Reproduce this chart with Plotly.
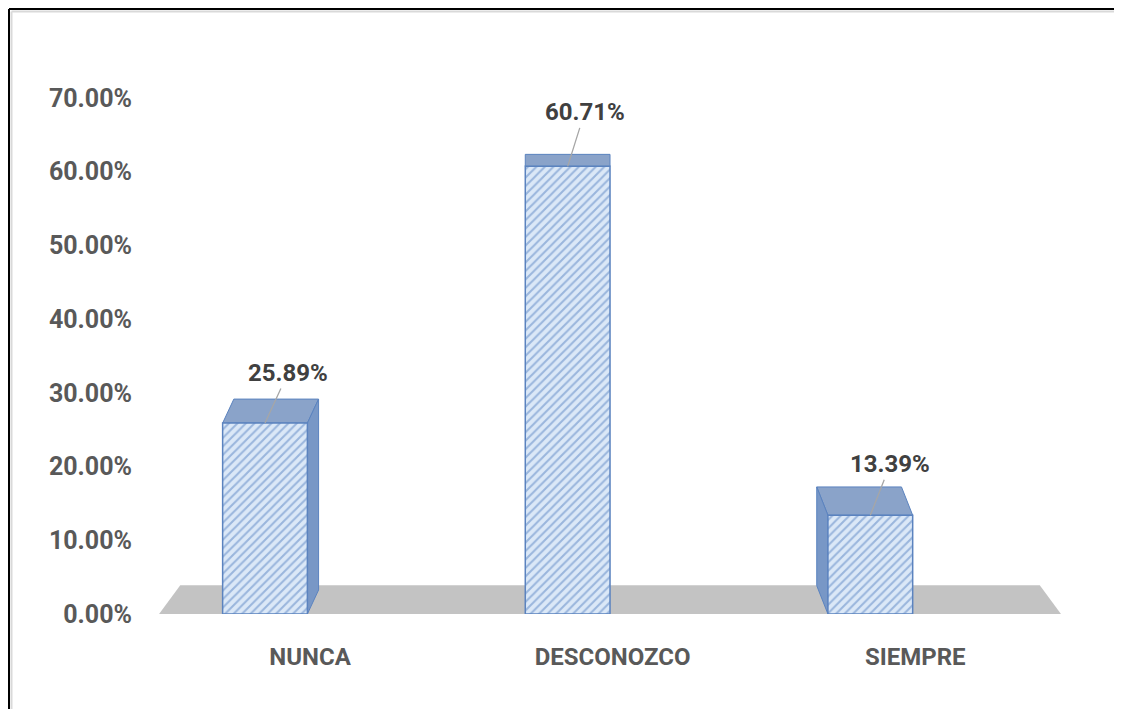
import plotly.graph_objects as go

# data
categories = ["NUNCA", "DESCONOZCO", "SIEMPRE"]
percentages = [25.89, 60.71, 13.39]
tick_values = [0, 10, 20, 30, 40, 50, 60, 70]
tick_labels = ["0.00%", "10.00%", "20.00%", "30.00%", "40.00%", "50.00%", "60.00%", "70.00%"]

# style / layout (page body adds an 8px offset)
W, H = 1122, 709
L, R, T, B = 142, 66, 53, 103
X_RANGE = [-0.38, 2.64]
Y_RANGE = [0, 75]
BAR_W = 0.28
FONT = "Roboto, Lato, sans-serif"
label_offsets = [(23, -50), (17, -54), (20, -51)]  # pixel offsets of value labels

plot_w = W - L - R
plot_h = H - T - B


def px_to_paper(x, y):
    return (x - L) / plot_w, (H - B - y) / plot_h


fig = go.Figure()
fig.add_trace(go.Bar(
    x=categories,
    y=percentages,
    width=BAR_W,
    marker=dict(
        color="#dbe8f7",
        line=dict(color="#5b83bf", width=1.5),
        pattern=dict(shape="/", fgcolor="#5a84c2", bgcolor="#dbe8f7",
                     size=6, solidity=0.35),
    ),
    hoverinfo="skip",
))

shapes = []

# grey floor
shapes.append(dict(
    type="path", xref="x", yref="y", layer="below",
    path="M -0.35 0 L -0.28 3.9 L 2.56 3.9 L 2.63 0 Z",
    fillcolor="#c3c3c3", line=dict(width=0),
))

# 3D depth faces derived from the bar values
half = BAR_W / 2
for i, v in enumerate(percentages):
    dx = (1 - i) * 0.037
    dy = 0.0468 * (95.5 - v)
    x0, x1 = i - half, i + half
    # top face
    shapes.append(dict(
        type="path", xref="x", yref="y", layer="below",
        path=f"M {x0} {v} L {x1} {v} L {x1 + dx} {v + dy} L {x0 + dx} {v + dy} Z",
        fillcolor="#8aa3c9", line=dict(color="#5b83bf", width=1),
    ))
    # side face
    if dx != 0:
        xs = x1 if dx > 0 else x0
        shapes.append(dict(
            type="path", xref="x", yref="y", layer="below",
            path=f"M {xs} 0 L {xs} {v} L {xs + dx} {v + dy} L {xs + dx} {dy} Z",
            fillcolor="#7897c6", line=dict(color="#5b83bf", width=1),
        ))

# outer frame (left and top edges only)
fx, fy = px_to_paper(1, 1)
_, fy_bot = px_to_paper(1, H)
fx_right, _ = px_to_paper(W, 1)
gx, gy = px_to_paper(3.5, 3.5)
shapes.append(dict(type="line", xref="paper", yref="paper", x0=gx, x1=fx_right,
                   y0=gy, y1=gy, line=dict(color="#d9d9d9", width=2)))
shapes.append(dict(type="line", xref="paper", yref="paper", x0=gx, x1=gx,
                   y0=fy_bot, y1=gy, line=dict(color="#d9d9d9", width=2)))
shapes.append(dict(type="line", xref="paper", yref="paper", x0=fx, x1=fx,
                   y0=fy_bot, y1=fy, line=dict(color="black", width=2)))
shapes.append(dict(type="line", xref="paper", yref="paper", x0=fx, x1=fx_right,
                   y0=fy, y1=fy, line=dict(color="black", width=2)))

annotations = []
for i, v in enumerate(percentages):
    ax, ay = label_offsets[i]
    annotations.append(dict(
        x=i, y=v, xref="x", yref="y",
        text=f"<b>{v:.2f}%</b>",
        showarrow=True, arrowhead=0, arrowwidth=1.3, arrowcolor="#a6a6a6",
        ax=ax, ay=ay, standoff=0,
        font=dict(family=FONT, size=24, color="#404040"),
    ))

fig.update_layout(
    width=W, height=H,
    margin=dict(l=L, r=R, t=T, b=B),
    paper_bgcolor="white", plot_bgcolor="white",
    showlegend=False,
    shapes=shapes,
    annotations=annotations,
    xaxis=dict(
        range=X_RANGE, showgrid=False, zeroline=False, showline=False,
        ticks="", tickfont=dict(family=FONT, size=24, color="#595959"),
        tickvals=list(range(len(categories))),
        ticktext=[f"<b>{c}</b>" for c in categories],
        ticklabelshift=45, ticklabelstandoff=26,
    ),
    yaxis=dict(
        range=Y_RANGE, showgrid=False, zeroline=False, showline=False,
        ticks="", tickvals=tick_values,
        ticktext=[f"<b>{t}</b>" for t in tick_labels],
        tickfont=dict(family=FONT, size=25, color="#595959"),
        ticklabelstandoff=17,
    ),
)

fig.write_html("out.html")
